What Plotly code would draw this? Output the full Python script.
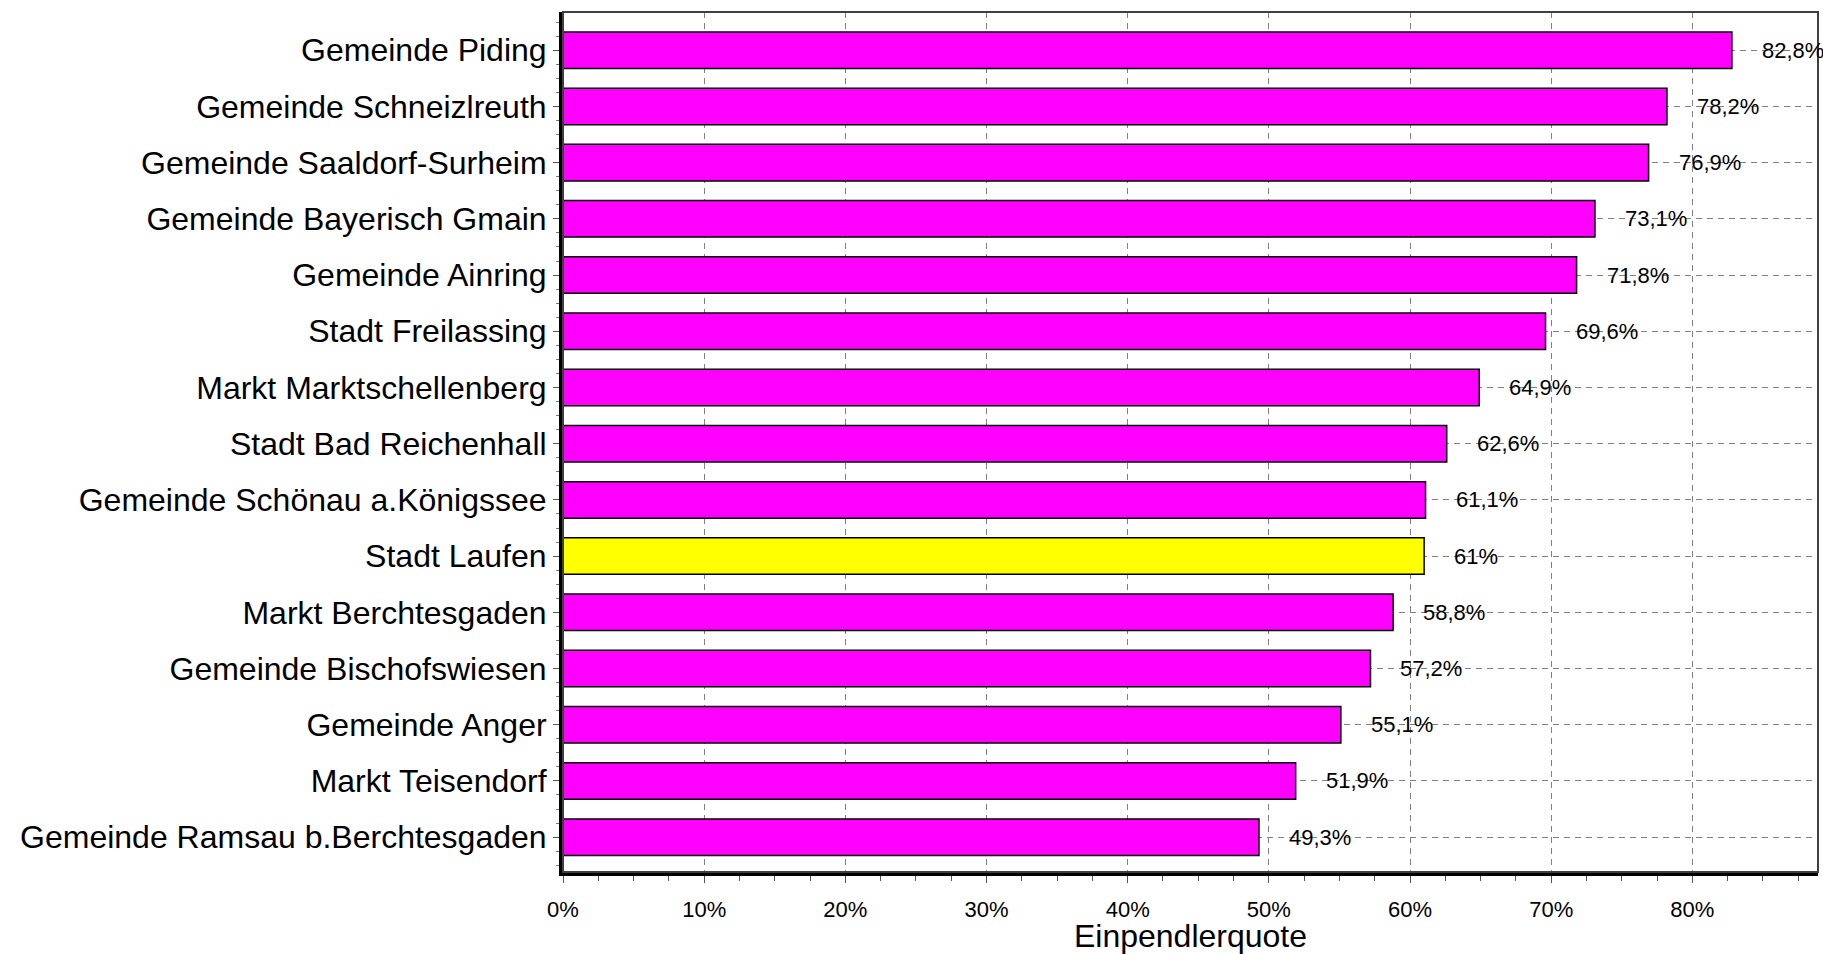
import plotly.graph_objects as go

categories = [
    "Gemeinde Piding",
    "Gemeinde Schneizlreuth",
    "Gemeinde Saaldorf-Surheim",
    "Gemeinde Bayerisch Gmain",
    "Gemeinde Ainring",
    "Stadt Freilassing",
    "Markt Marktschellenberg",
    "Stadt Bad Reichenhall",
    "Gemeinde Schönau a.Königssee",
    "Stadt Laufen",
    "Markt Berchtesgaden",
    "Gemeinde Bischofswiesen",
    "Gemeinde Anger",
    "Markt Teisendorf",
    "Gemeinde Ramsau b.Berchtesgaden",
]
values = [82.8, 78.2, 76.9, 73.1, 71.8, 69.6, 64.9, 62.6, 61.1, 61.0, 58.8, 57.2, 55.1, 51.9, 49.3]
value_labels = ["82,8%", "78,2%", "76,9%", "73,1%", "71,8%", "69,6%", "64,9%", "62,6%",
                "61,1%", "61%", "58,8%", "57,2%", "55,1%", "51,9%", "49,3%"]
highlight = "Stadt Laufen"
x_tickvals = [0, 10, 20, 30, 40, 50, 60, 70, 80]
x_ticktext = ["0%", "10%", "20%", "30%", "40%", "50%", "60%", "70%", "80%"]

colors = ["#FFFF00" if c == highlight else "#FF00FF" for c in categories]
ypos = list(range(len(categories)))

FONT = "Arial, 'Liberation Sans', sans-serif"

fig = go.Figure()
fig.add_trace(go.Bar(
    y=ypos, x=values, orientation="h",
    marker=dict(color=colors, line=dict(color="#000000", width=1.5)),
    width=0.65, customdata=categories, hovertemplate="%{customdata}: %{x}%<extra></extra>",
))

for p, v, t in zip(ypos, values, value_labels):
    fig.add_annotation(x=v, y=p, text=t, showarrow=False, xanchor="left",
                       xshift=28, font=dict(family=FONT, size=22, color="#000000"))

fig.add_shape(type="rect", xref="paper", yref="paper", x0=0, y0=0, x1=1, y1=1,
              line=dict(color="#404040", width=2), layer="above")

fig.update_layout(
    width=1823, height=954,
    margin=dict(l=563, r=5, t=12, b=82),
    paper_bgcolor="#FFFFFF", plot_bgcolor="#FFFFFF",
    showlegend=False,
    font=dict(family=FONT, color="#000000"),
)
fig.update_xaxes(
    range=[0, 88.9],
    tickvals=x_tickvals, ticktext=x_ticktext,
    tickfont=dict(size=22, family=FONT, color="#000000"),
    ticks="outside", ticklen=7, tickcolor="#555555", tickwidth=1,
    ticklabelstandoff=8,
    minor=dict(dtick=2.5, tick0=0, ticks="outside", ticklen=5, tickcolor="#555555", showgrid=False),
    showgrid=True, gridcolor="#808080", griddash="6px,5px", gridwidth=1,
    showline=True, linecolor="#000000", linewidth=4,
    zeroline=False,
    title=dict(text="Einpendlerquote", font=dict(size=32, family=FONT, color="#000000"), standoff=0),
)
fig.update_yaxes(
    range=[14.62, -0.68],
    tickvals=ypos, ticktext=categories,
    tickfont=dict(size=32, family=FONT, color="#000000"),
    ticks="outside", ticklen=6, tickcolor="#555555",
    minor=dict(dtick=0.25, tick0=0, ticks="outside", ticklen=3, tickcolor="#777777", showgrid=False),
    showgrid=True, gridcolor="#808080", griddash="6px,5px", gridwidth=1,
    showline=True, linecolor="#000000", linewidth=4,
    zeroline=False,
)

fig.write_html("out.html", config={"displayModeBar": False},
               post_script="document.body.style.margin='0px';document.body.style.overflow='hidden';")
